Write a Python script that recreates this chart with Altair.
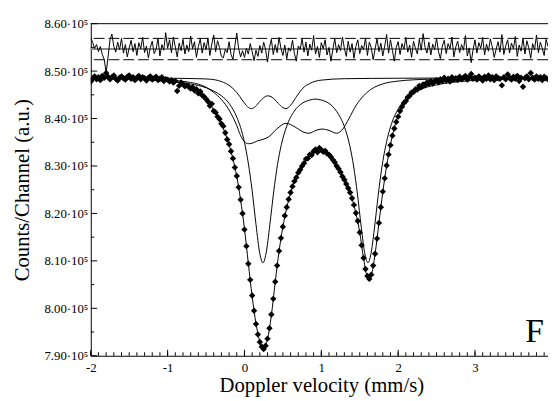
import altair as alt
import pandas as pd

FONT = "Liberation Serif"

# ---------------- data (units of 1e5 counts) ----------------
V_START = -2.0
V_STEP = 0.025

COUNTS = [
    8.478, 8.484, 8.489, 8.483, 8.487, 8.481, 8.490, 8.486, 8.496, 8.488,
    8.483, 8.487, 8.491, 8.484, 8.480, 8.486, 8.489, 8.485, 8.482, 8.488,
    8.491, 8.484, 8.487, 8.481, 8.486, 8.490, 8.483, 8.487, 8.485, 8.480,
    8.486, 8.489, 8.482, 8.485, 8.488, 8.481, 8.484, 8.487, 8.479, 8.483,
    8.482, 8.478, 8.481, 8.476, 8.479, 8.458, 8.469, 8.476, 8.472, 8.468,
    8.470, 8.467, 8.463, 8.466, 8.459, 8.462, 8.453, 8.457, 8.449, 8.446,
    8.441, 8.436, 8.427, 8.431, 8.416, 8.413, 8.404, 8.399, 8.389, 8.384,
    8.370, 8.356, 8.346, 8.331, 8.316, 8.297, 8.279, 8.255, 8.229, 8.200,
    8.166, 8.131, 8.094, 8.060, 8.027, 7.995, 7.967, 7.945, 7.929, 7.919,
    7.914, 7.921, 7.936, 7.958, 7.987, 8.020, 8.056, 8.090, 8.121, 8.148,
    8.172, 8.195, 8.213, 8.230, 8.244, 8.257, 8.268, 8.276, 8.286, 8.292,
    8.300, 8.306, 8.315, 8.316, 8.324, 8.323, 8.331, 8.335, 8.329, 8.338,
    8.334, 8.330, 8.332, 8.326, 8.324, 8.319, 8.313, 8.308, 8.300, 8.294,
    8.287, 8.278, 8.271, 8.262, 8.253, 8.244, 8.232, 8.218, 8.201, 8.184,
    8.160, 8.133, 8.106, 8.083, 8.068, 8.062, 8.071, 8.090, 8.115, 8.147,
    8.180, 8.213, 8.246, 8.274, 8.301, 8.324, 8.344, 8.364, 8.379, 8.393,
    8.404, 8.416, 8.425, 8.433, 8.437, 8.445, 8.448, 8.455, 8.456, 8.462,
    8.461, 8.469, 8.466, 8.472, 8.470, 8.476, 8.473, 8.479, 8.474, 8.478,
    8.481, 8.476, 8.483, 8.479, 8.486, 8.480, 8.484, 8.478, 8.487, 8.482,
    8.485, 8.481, 8.488, 8.483, 8.486, 8.490, 8.482, 8.487, 8.494, 8.484,
    8.486, 8.482, 8.489, 8.485, 8.480, 8.488, 8.484, 8.491, 8.483, 8.487,
    8.481, 8.489, 8.485, 8.484, 8.470, 8.487, 8.483, 8.493, 8.486, 8.482,
    8.488, 8.484, 8.490, 8.479, 8.486, 8.467, 8.485, 8.489, 8.483, 8.496,
    8.486, 8.482, 8.489, 8.484, 8.487, 8.481, 8.488, 8.485, 8.483,
]

RESIDUAL = [
    8.571, 8.560, 8.548, 8.556, 8.541, 8.552, 8.535, 8.525, 8.497, 8.530,
    8.566, 8.578, 8.552, 8.540, 8.561, 8.545, 8.569, 8.538, 8.556, 8.530,
    8.549, 8.565, 8.541, 8.558, 8.533, 8.560, 8.547, 8.571, 8.539, 8.553,
    8.528, 8.550, 8.563, 8.537, 8.546, 8.569, 8.532, 8.556, 8.544, 8.581,
    8.548, 8.566, 8.539, 8.572, 8.551, 8.530, 8.559, 8.543, 8.567, 8.536,
    8.555, 8.541, 8.574, 8.547, 8.562, 8.529, 8.552, 8.568, 8.538, 8.560,
    8.545, 8.570, 8.533, 8.557, 8.576, 8.541, 8.564, 8.550, 8.531, 8.528,
    8.546, 8.539, 8.562, 8.535, 8.525, 8.553, 8.580, 8.547, 8.530, 8.543,
    8.529, 8.548, 8.536, 8.558, 8.541, 8.522, 8.544, 8.531, 8.554, 8.538,
    8.561, 8.545, 8.519, 8.550, 8.567, 8.535, 8.556, 8.539, 8.571, 8.548,
    8.533, 8.555, 8.526, 8.549, 8.542, 8.565, 8.537, 8.521, 8.553, 8.546,
    8.568, 8.540, 8.561, 8.532, 8.557, 8.544, 8.575, 8.536, 8.552, 8.529,
    8.560, 8.547, 8.566, 8.534, 8.550, 8.521, 8.545, 8.569, 8.539, 8.556,
    8.543, 8.572, 8.548, 8.531, 8.563, 8.540, 8.558, 8.527, 8.552, 8.566,
    8.537, 8.554, 8.545, 8.570, 8.533, 8.561, 8.549, 8.524, 8.547, 8.568,
    8.541, 8.559, 8.532, 8.553, 8.577, 8.538, 8.566, 8.544, 8.521, 8.550,
    8.562, 8.535, 8.558, 8.546, 8.571, 8.540, 8.555, 8.529, 8.563, 8.548,
    8.536, 8.567, 8.544, 8.579, 8.550, 8.538, 8.561, 8.534, 8.557, 8.545,
    8.569, 8.541, 8.526, 8.553, 8.565, 8.537, 8.558, 8.547, 8.572, 8.530,
    8.551, 8.563, 8.539, 8.556, 8.544, 8.575, 8.532, 8.549, 8.518, 8.545,
    8.566, 8.538, 8.560, 8.548, 8.571, 8.534, 8.557, 8.542, 8.568, 8.551,
    8.529, 8.546, 8.562, 8.540, 8.577, 8.535, 8.553, 8.566, 8.538, 8.559,
    8.547, 8.573, 8.531, 8.555, 8.542, 8.569, 8.536, 8.564, 8.549, 8.527,
    8.558, 8.545, 8.576, 8.539, 8.561, 8.548, 8.533, 8.567, 8.552,
]

RES_CENTER = 8.5465
RES_UPPER = 8.569
RES_LOWER = 8.524

FIT_V = [-2.0, -1.5, -1.2, -1.0, -0.9, -0.8, -0.7, -0.6, -0.5, -0.4, -0.3, -0.2,
         -0.15, -0.1, -0.05, 0.0, 0.05, 0.1, 0.15, 0.2, 0.25, 0.3, 0.35, 0.4,
         0.45, 0.5, 0.55, 0.6, 0.7, 0.8, 0.9, 1.0, 1.1, 1.2, 1.3, 1.4, 1.45,
         1.5, 1.55, 1.6, 1.65, 1.7, 1.75, 1.8, 1.85, 1.9, 1.95, 2.0, 2.1, 2.2,
         2.3, 2.4, 2.6, 2.8, 3.0, 3.95]
FIT_Y = [8.486, 8.486, 8.484, 8.481, 8.478, 8.473, 8.466, 8.455, 8.440, 8.418,
         8.388, 8.345, 8.315, 8.278, 8.228, 8.168, 8.095, 8.025, 7.968, 7.930,
         7.918, 7.935, 7.985, 8.055, 8.120, 8.172, 8.212, 8.243, 8.285, 8.312,
         8.328, 8.333, 8.324, 8.300, 8.270, 8.232, 8.200, 8.160, 8.105, 8.068,
         8.072, 8.115, 8.180, 8.245, 8.300, 8.345, 8.380, 8.405, 8.438, 8.457,
         8.468, 8.475, 8.481, 8.484, 8.485, 8.486]

# narrow doublet
A_V = [-2.0, -1.5, -1.0, -0.7, -0.5, -0.4, -0.3, -0.2, -0.1, -0.05, 0.0, 0.05,
       0.1, 0.15, 0.2, 0.24, 0.28, 0.33, 0.38, 0.43, 0.48, 0.55, 0.65, 0.75,
       0.85, 0.92, 1.0, 1.1, 1.2, 1.3, 1.37, 1.42, 1.47, 1.52, 1.57, 1.607,
       1.645, 1.69, 1.74, 1.79, 1.84, 1.92, 2.0, 2.15, 2.3, 2.5, 2.8, 3.2, 3.95]
A_Y = [8.485, 8.483, 8.479, 8.473, 8.465, 8.458, 8.448, 8.432, 8.403, 8.381,
       8.350, 8.306, 8.248, 8.177, 8.115, 8.096, 8.115, 8.176, 8.245, 8.303,
       8.345, 8.384, 8.416, 8.432, 8.439, 8.441, 8.439, 8.432, 8.415, 8.383,
       8.343, 8.300, 8.241, 8.171, 8.112, 8.096, 8.114, 8.167, 8.238, 8.299,
       8.344, 8.392, 8.420, 8.448, 8.462, 8.471, 8.478, 8.482, 8.485]

# broad component
B_V = [-2.0, -1.5, -1.0, -0.7, -0.5, -0.4, -0.3, -0.2, -0.1, -0.05, 0.0, 0.05,
       0.1, 0.17, 0.24, 0.32, 0.42, 0.54, 0.66, 0.76, 0.84, 0.93, 1.01, 1.1,
       1.2, 1.28, 1.36, 1.45, 1.55, 1.65, 1.8, 2.0, 2.4, 3.0, 3.95]
B_Y = [8.485, 8.484, 8.481, 8.476, 8.466, 8.455, 8.440, 8.418, 8.385, 8.364,
       8.351, 8.347, 8.348, 8.353, 8.356, 8.362, 8.378, 8.390, 8.382, 8.372,
       8.369, 8.375, 8.378, 8.375, 8.369, 8.378, 8.400, 8.427, 8.448, 8.462,
       8.473, 8.479, 8.483, 8.485, 8.486]

# small doublet
C_V = [-2.0, -1.0, -0.6, -0.45, -0.3, -0.2, -0.1, -0.02, 0.04, 0.09, 0.14,
       0.2, 0.3, 0.36, 0.44, 0.5, 0.54, 0.6, 0.68, 0.76, 0.85, 1.0, 1.3, 2.0, 3.95]
C_Y = [8.486, 8.485, 8.484, 8.483, 8.478, 8.470, 8.455, 8.437, 8.425, 8.421,
       8.425, 8.436, 8.448, 8.445, 8.432, 8.423, 8.421, 8.428, 8.447, 8.464,
       8.474, 8.481, 8.484, 8.485, 8.486]

X_LABELS = [-2, -1, 0, 1, 2, 3]
Y_LABELS = [7.90, 8.00, 8.10, 8.20, 8.30, 8.40, 8.50, 8.60]
X_MINOR = [round(-2 + 0.1 * k, 1) for k in range(60)]
Y_MINOR = [round(7.95 + 0.1 * k, 2) for k in range(7)]

# ---------------- chart ----------------
vel = [round(V_START + V_STEP * i, 3) for i in range(len(COUNTS))]
pts = pd.DataFrame({"v": vel, "c": COUNTS, "r": RESIDUAL})

comp_rows = []
for name, vv, yy in (("A", A_V, A_Y), ("B", B_V, B_Y), ("C", C_V, C_Y)):
    for a, b in zip(vv, yy):
        comp_rows.append({"comp": name, "v": a, "y": b})
comps = pd.DataFrame(comp_rows)
fit = pd.DataFrame({"v": FIT_V, "y": FIT_Y})

xs = alt.Scale(domain=[-2, 3.95], nice=False, zero=False)
ys = alt.Scale(domain=[7.90, 8.60], nice=False, zero=False)

x_axis = alt.Axis(
    values=X_LABELS, labelExpr="'' + datum.value", ticks=False, grid=False,
    domainColor="black", domainWidth=1, labelFont=FONT, labelFontSize=13,
    labelColor="black", labelPadding=6, labelFlush=False,
    title="Doppler velocity (mm/s)", titleFont=FONT, titleFontSize=21,
    titleFontWeight="normal", titleColor="black", titleX=234, titleY=36,
    titleBaseline="alphabetic", titleAlign="center",
)
y_axis = alt.Axis(
    values=Y_LABELS, labelExpr="format(datum.value, '.2f') + '·10⁵'",
    ticks=False, grid=False, domainColor="black", domainWidth=1,
    labelFont=FONT, labelFontSize=13, labelColor="black", labelPadding=3,
    title="Counts/Channel (a.u.)", titleFont=FONT, titleFontSize=21,
    titleFontWeight="normal", titleColor="black", titleX=-63.5, titleY=168.5,
    titleAngle=270, titleBaseline="alphabetic", titleAlign="center",
)

points = alt.Chart(pts).mark_point(
    shape="diamond", filled=True, size=42, color="black", opacity=1, clip=True
).encode(
    x=alt.X("v:Q", scale=xs, axis=x_axis),
    y=alt.Y("c:Q", scale=ys, axis=y_axis),
)

res_line = alt.Chart(pts).mark_line(color="black", strokeWidth=1, clip=True).encode(
    x=alt.X("v:Q", scale=xs), y=alt.Y("r:Q", scale=ys)
)

one = pd.DataFrame({"k": [0]})
res_center = alt.Chart(one).mark_rule(color="#8c8c8c", strokeWidth=2).encode(
    y=alt.datum(RES_CENTER, scale=ys)
)
res_up = alt.Chart(one).mark_rule(color="black", strokeWidth=1, strokeDash=[11, 4]).encode(
    y=alt.datum(RES_UPPER, scale=ys)
)
res_lo = alt.Chart(one).mark_rule(color="black", strokeWidth=1, strokeDash=[11, 4]).encode(
    y=alt.datum(RES_LOWER, scale=ys)
)
top_border = alt.Chart(one).mark_rule(color="black", strokeWidth=1).encode(
    y=alt.datum(8.60, scale=ys)
)

comp_lines = alt.Chart(comps).mark_line(
    color="black", strokeWidth=1, interpolate="monotone", clip=True
).encode(
    x=alt.X("v:Q", scale=xs), y=alt.Y("y:Q", scale=ys), detail="comp:N"
)
fit_line = alt.Chart(fit).mark_line(
    color="black", strokeWidth=1, interpolate="monotone", clip=True
).encode(x=alt.X("v:Q", scale=xs), y=alt.Y("y:Q", scale=ys))

xmaj = alt.Chart(pd.DataFrame({"t": X_LABELS})).mark_rule(color="black").encode(
    x=alt.X("t:Q", scale=xs), y=alt.value(337), y2=alt.value(331)
)
xmin = alt.Chart(pd.DataFrame({"t": X_MINOR})).mark_rule(color="black").encode(
    x=alt.X("t:Q", scale=xs), y=alt.value(337), y2=alt.value(333.5)
)
ymaj = alt.Chart(pd.DataFrame({"t": Y_LABELS})).mark_rule(color="black").encode(
    y=alt.Y("t:Q", scale=ys), x=alt.value(0), x2=alt.value(6.5)
)
ymin = alt.Chart(pd.DataFrame({"t": Y_MINOR})).mark_rule(color="black").encode(
    y=alt.Y("t:Q", scale=ys), x=alt.value(0), x2=alt.value(3.5)
)

letter = alt.Chart(one).mark_text(
    text="F", font=FONT, fontSize=34, color="black", align="center", baseline="alphabetic"
).encode(x=alt.datum(3.776, scale=xs), y=alt.datum(7.929, scale=ys))

chart = alt.layer(
    res_center, res_up, res_lo, res_line, top_border,
    comp_lines, points, fit_line,
    xmaj, xmin, ymaj, ymin, letter,
).properties(
    width=464, height=337,
    padding={"left": 84, "top": 13, "right": 0, "bottom": 43},
    autosize=alt.AutoSizeParams(type="none"),
    background="white",
).configure_view(stroke=None).configure_axis(
    labelFont=FONT, titleFont=FONT
).configure_text(font=FONT)

chart.save("out.html", embed_options={"renderer": "svg", "actions": False})
